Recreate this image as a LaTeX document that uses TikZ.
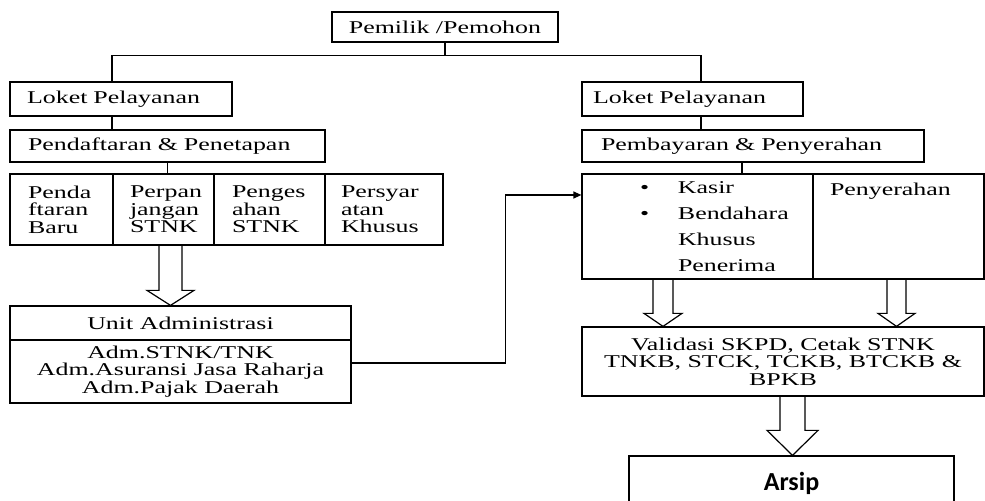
\documentclass[tikz,border=0pt]{standalone}
\usepackage{fontspec}
\setmainfont{Liberation Serif}[FakeStretch=1.44]
\newfontfamily\arsipfont{Carlito}
\usetikzlibrary{calc,arrows.meta}

\tikzset{
  box/.style={draw, line width=0.6pt, inner sep=0pt, font=\fontsize{9}{8.7}\selectfont},
  lbox/.style={box, align=left},
  cbox/.style={box, align=center},
  link/.style={line width=0.6pt},
  arr/.style={link, -{Triangle[length=4pt,width=3.5pt]}},
  fat/.style={line width=0.6pt},
}

% hollow down arrow: x, from, to, shaft half width, head half width, head length
\newcommand{\fatarrow}[6]{%
  \draw[fat] let \p1=(#2), \p2=(#3), \p3=(#1,0) in
    (\x3-#4,\y1) -- (\x3-#4,\y2+#6) -- (\x3-#5,\y2+#6) -- (\x3,\y2)
    -- (\x3+#5,\y2+#6) -- (\x3+#4,\y2+#6) -- (\x3+#4,\y1);}

\begin{document}
\begin{tikzpicture}[x=0.5pt, y=-0.5pt]
  \useasboundingbox (0,0) rectangle (985,501);
  \clip (0,0) rectangle (985,501);

  % top
  \node[cbox, minimum width=113pt, minimum height=15pt] (owner) at (445,27) {Pemilik /Pemohon};

  % left branch
  \node[lbox, minimum width=111pt, minimum height=17pt, inner xsep=8.5pt, text width=94pt] (loketL) at (121,99) {Loket Pelayanan};
  \node[lbox, minimum width=157.5pt, minimum height=16pt, inner xsep=9pt, text width=139.5pt] (pendL) at (167.5,146) {Pendaftaran \& Penetapan};
  \node[lbox, minimum height=35.5pt, inner xsep=9pt, text width=33.5pt] (baru) at (61.5,209.5) {Penda\\ftaran\\Baru};
  \node[lbox, minimum height=35.5pt, inner xsep=8.5pt, text width=33.5pt] (perp) at (163.5,209.5) {Perpan\\jangan\\STNK};
  \node[lbox, minimum height=35.5pt, inner xsep=9pt, text width=37.5pt] (peng) at (269.5,209.5) {Penges\\ahan\\STNK};
  \node[lbox, minimum height=35.5pt, inner xsep=8pt, text width=43pt] (pers) at (384,209.5) {Persyar\\atan\\Khusus};
  \node[cbox, minimum width=170.5pt, minimum height=17pt] (unitT) at (180.5,323) {Unit Administrasi};
  \node[cbox, minimum width=170.5pt, minimum height=31.5pt] (unitB) at (180.5,371.5) {Adm.STNK/TNK\\Adm.Asuransi Jasa Raharja\\Adm.Pajak Daerah};

  % right branch
  \node[lbox, minimum width=110.5pt, minimum height=17pt, inner xsep=5.5pt, text width=99.5pt] (loketR) at (692.5,99) {Loket Pelayanan};
  \node[lbox, minimum width=171pt, minimum height=16pt, inner xsep=9.5pt, text width=152pt] (pembR) at (753,146) {Pembayaran \& Penyerahan};
  \node[lbox, minimum width=115.5pt, minimum height=52.5pt, text width=115.5pt] (kasir) at (697.5,226.5)
    {\hspace*{29pt}\makebox[19pt][l]{\textbullet}Kasir\\[4.4pt]
     \hspace*{29pt}\makebox[19pt][l]{\textbullet}Bendahara\\[4.4pt]
     \hspace*{48pt}Khusus\\[4.4pt]
     \hspace*{48pt}Penerima};
  \node[lbox, inner xsep=8.5pt, text width=68.5pt, inner ysep=4.5pt, text height=6.5pt, text depth=37pt] (penyer) at (898.5,226.5) {Penyerahan};
  \node[cbox, minimum width=201pt, minimum height=34.5pt] (valid) at (783,361.5) {Validasi SKPD, Cetak STNK\\TNKB, STCK, TCKB, BTCKB \&\\BPKB};
  \node[box, minimum width=162.5pt, minimum height=27pt, font=\arsipfont\bfseries\fontsize{13}{15}\selectfont] (arsip) at (791.5,483) {Arsip};

  % connectors
  \coordinate (lx) at (112,0);
  \coordinate (rx) at (701,0);
  \coordinate (px) at (742,0);
  \draw[link] (owner.south) -- ++(0,13) coordinate (fork);
  \draw[link] (lx |- loketL.north) |- (fork) -| (rx |- loketR.north);
  \draw[link] (lx |- loketL.south) -- (lx |- pendL.north);
  \draw[link] (pendL.south) -- (pendL.south |- perp.north);
  \draw[link] (rx |- loketR.south) -- (rx |- pembR.north);
  \draw[link] (px |- pembR.south) -- (px |- kasir.north);
  \draw[arr] ([yshift=4.25pt]unitB.east) -- ++(154,0) |- ([yshift=15.75pt]kasir.west);

  % hollow arrows
  \fatarrow{170.5}{perp.south}{unitT.north}{5.75pt}{11.75pt}{7.5pt}
  \fatarrow{663}{kasir.south}{valid.north}{5pt}{9.5pt}{6.5pt}
  \fatarrow{896.5}{penyer.south}{valid.north}{4.75pt}{9.25pt}{6.5pt}
  \fatarrow{792.5}{valid.south}{arsip.north}{6.25pt}{12.75pt}{12.5pt}
\end{tikzpicture}
\end{document}
